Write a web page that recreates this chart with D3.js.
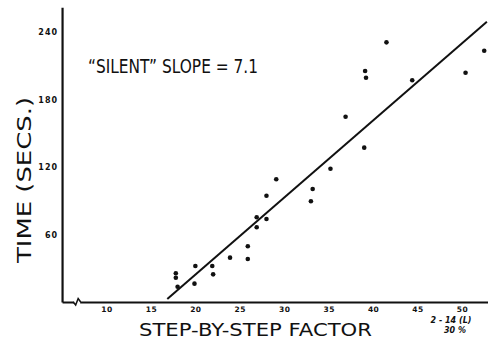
<!DOCTYPE html>
<html>
<head>
<meta charset="utf-8">
<script src="https://cdn.jsdelivr.net/npm/d3@7"></script>
<style>
  html, body { margin: 0; padding: 0; background: #fff; }
  svg { display: block; }
  text { font-family: "DejaVu Sans", "Liberation Sans", sans-serif; fill: #111; }
</style>
</head>
<body>
<svg id="chart" width="488" height="343"></svg>
<script>
// ---- data ----
const stepFactor = [17.8, 17.8, 18.0, 20.0, 19.9, 21.9, 22.0, 23.9, 25.9, 25.9,
                    26.9, 26.9, 28.0, 28.0, 29.1, 33.2, 33.0, 35.2, 36.9, 39.0,
                    39.1, 39.2, 41.5, 44.4, 50.4, 52.5];
const timeSecs   = [25.5, 21.6, 13.6, 32.0, 16.3, 32.0, 24.6, 39.4, 49.5, 38.2,
                    66.4, 75.3, 73.8, 94.5, 109.1, 100.4, 89.5, 118.5, 164.7, 137.2,
                    205.3, 199.4, 230.8, 197.1, 203.8, 223.4];
const fitX = [16.84, 52.8];
const fitY = [2.7, 249.2];
const xTicks = [10, 15, 20, 25, 30, 35, 40, 45, 50];
const yTicks = [60, 120, 180, 240];
const yTitle = "TIME (SECS.)";
const xTitle = "STEP-BY-STEP FACTOR";
const note = "\u201CSILENT\u201D SLOPE = 7.1";
const sideNote = ["2 - 14 (L)", "30 %"];

const svg = d3.select("#chart");
svg.append("rect").attr("width", 488).attr("height", 343).attr("fill", "#fff");

const x = d3.scaleLinear().domain([5, 53]).range([62.06, 488.66]);
const y = d3.scaleLinear().domain([0, 262]).range([302, 7.25]);

// y axis
const yAxis = svg.append("g")
  .attr("transform", `translate(${x(5)},0)`)
  .call(d3.axisLeft(y).tickValues(yTicks).tickSize(0).tickPadding(4).tickSizeOuter(0));
yAxis.select(".domain").attr("stroke", "#111").attr("stroke-width", 2.2);
yAxis.selectAll("text")
  .style("font-size", "8px").style("font-weight", "bold").style("letter-spacing", "1px")
  .attr("fill", "#111");

// x axis
const xAxis = svg.append("g")
  .attr("transform", `translate(0,${y(0)})`)
  .call(d3.axisBottom(x).tickValues(xTicks).tickSize(0).tickPadding(5).tickSizeOuter(0));
xAxis.select(".domain").attr("stroke", "#111").attr("stroke-width", 2);
xAxis.selectAll("text")
  .style("font-size", "7.5px").style("font-weight", "bold").style("letter-spacing", "0.5px")
  .attr("fill", "#111");

// axis break symbol
const bx = x(6.7), by = y(0);
svg.append("rect").attr("x", bx - 3).attr("y", by - 2).attr("width", 6).attr("height", 4).attr("fill", "#fff");
svg.append("path")
  .attr("d", `M${bx - 4},${by} L${bx - 1.5},${by + 3} L${bx + 1},${by - 3.5} L${bx + 3.5},${by}`)
  .attr("fill", "none").attr("stroke", "#111").attr("stroke-width", 1.5);

// regression line
svg.append("line")
  .attr("x1", x(fitX[0])).attr("y1", y(fitY[0]))
  .attr("x2", x(fitX[1])).attr("y2", y(fitY[1]))
  .attr("stroke", "#111").attr("stroke-width", 2);

// points
svg.append("g").selectAll("circle")
  .data(stepFactor.map((d, i) => [d, timeSecs[i]]))
  .join("circle")
  .attr("cx", d => x(d[0])).attr("cy", d => y(d[1]))
  .attr("r", 2.3).attr("fill", "#111");

// titles
svg.append("text")
  .attr("transform", "translate(31,180) rotate(-90)")
  .attr("text-anchor", "middle")
  .attr("textLength", 166).attr("lengthAdjust", "spacingAndGlyphs")
  .style("font-size", "20px")
  .text(yTitle);

svg.append("text")
  .attr("x", 255.5).attr("y", 336)
  .attr("text-anchor", "middle")
  .attr("textLength", 233).attr("lengthAdjust", "spacingAndGlyphs")
  .style("font-size", "18px")
  .text(xTitle);

svg.append("text")
  .attr("x", 88).attr("y", 73)
  .attr("textLength", 170).attr("lengthAdjust", "spacingAndGlyphs")
  .style("font-size", "19px")
  .text(note);

svg.append("g").selectAll("text")
  .data(sideNote)
  .join("text")
  .attr("x", (d, i) => i === 0 ? 451 : 455).attr("y", (d, i) => 323 + i * 10)
  .attr("text-anchor", "middle")
  .style("font-size", "8px").style("font-style", "italic").style("font-weight", "bold")
  .text(d => d);
</script>
</body>
</html>
